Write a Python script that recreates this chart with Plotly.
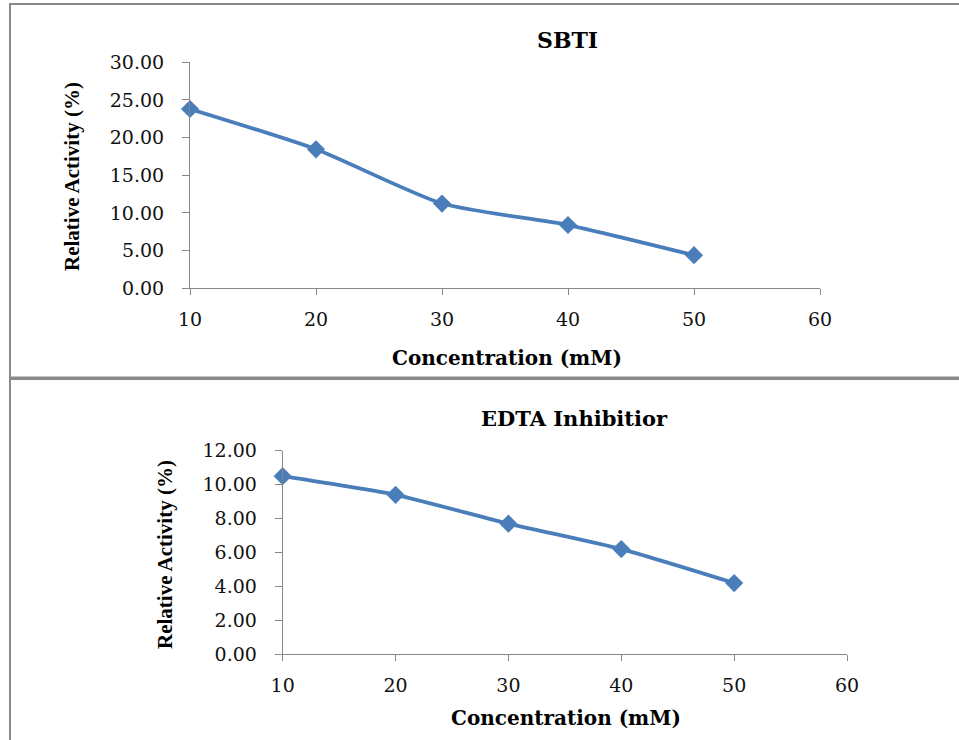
import plotly.graph_objects as go

# Data
concentration = [10, 20, 30, 40, 50]
sbti_activity = [23.8, 18.45, 11.25, 8.4, 4.4]
edta_activity = [10.5, 9.4, 7.7, 6.2, 4.2]

top_title = "SBTI"
bottom_title = "EDTA Inhibitior"
x_title = "Concentration (mM)"
y_title = "Relative Activity (%)"

W, H = 959, 740
def px(x):
    return x / W
def py(y):
    return 1 - y / H

LINE_COLOR = "#4A7EBB"
AXIS_COLOR = "#868686"
WIDE = "DejaVu Serif, serif"
NARROW = "Liberation Serif, Times New Roman, serif"

fig = go.Figure()

for xs, ys, xa, ya in [(concentration, sbti_activity, "x", "y"),
                       (concentration, edta_activity, "x2", "y2")]:
    fig.add_trace(go.Scatter(
        x=xs, y=ys, mode="lines+markers",
        line=dict(color=LINE_COLOR, width=3.8, shape="spline", smoothing=0.6),
        marker=dict(symbol="diamond", size=14, color=LINE_COLOR),
        xaxis=xa, yaxis=ya, cliponaxis=False, showlegend=False))

axis_common = dict(
    showline=True, linecolor=AXIS_COLOR, linewidth=1,
    ticks="outside", tickcolor=AXIS_COLOR, tickwidth=1,
    showgrid=False, zeroline=False, automargin=False,
    tickfont=dict(family=WIDE, size=19, color="#111"),
)

fig.update_layout(
    template="none",
    width=W, height=H, autosize=False,
    margin=dict(l=0, r=0, t=0, b=0, pad=0, autoexpand=False),
    paper_bgcolor="white", plot_bgcolor="white",
    xaxis=dict(domain=[px(190), px(820)], range=[10, 60], dtick=10,
               anchor="y", ticklen=6, ticklabelstandoff=8, **axis_common),
    yaxis=dict(domain=[py(288.3), py(62.3)], range=[0, 30], dtick=5,
               tickformat=".2f", anchor="x", ticklen=7, ticklabelstandoff=14, **axis_common),
    xaxis2=dict(domain=[px(282.7), px(847)], range=[10, 60], dtick=10,
                anchor="y2", ticklen=6, ticklabelstandoff=8, **axis_common),
    yaxis2=dict(domain=[py(654.3), py(450.7)], range=[0, 12], dtick=2,
                tickformat=".2f", anchor="x2", ticklen=7, ticklabelstandoff=14, **axis_common),
)

def ann(text, x, y, angle=0, size=18, family=WIDE):
    fig.add_annotation(text=f"<b>{text}</b>", x=px(x), y=py(y), xref="paper", yref="paper",
                       showarrow=False, textangle=angle, xanchor="center", yanchor="middle",
                       font=dict(family=family, size=size, color="black"))

ann(top_title, 567, 40, size=22)
ann(x_title, 507, 358, size=20)
ann(y_title, 72, 177, angle=-90, size=21, family=NARROW)
ann(bottom_title, 574, 418, size=21)
ann(x_title, 566, 718, size=20)
ann(y_title, 165, 555, angle=-90, size=21, family=NARROW)

BORDER = "#8a8a8a"
fig.add_shape(type="rect", xref="paper", yref="paper",
              x0=px(10), x1=1.01, y0=py(377.5), y1=py(4),
              line=dict(color=BORDER, width=2))
fig.add_shape(type="rect", xref="paper", yref="paper",
              x0=px(10), x1=1.01, y0=-0.01, y1=py(379),
              line=dict(color=BORDER, width=2))

fig.write_html("out.html",
               config={"displayModeBar": False},
               post_script="document.body.style.margin='0px';document.body.style.overflow='hidden';")
